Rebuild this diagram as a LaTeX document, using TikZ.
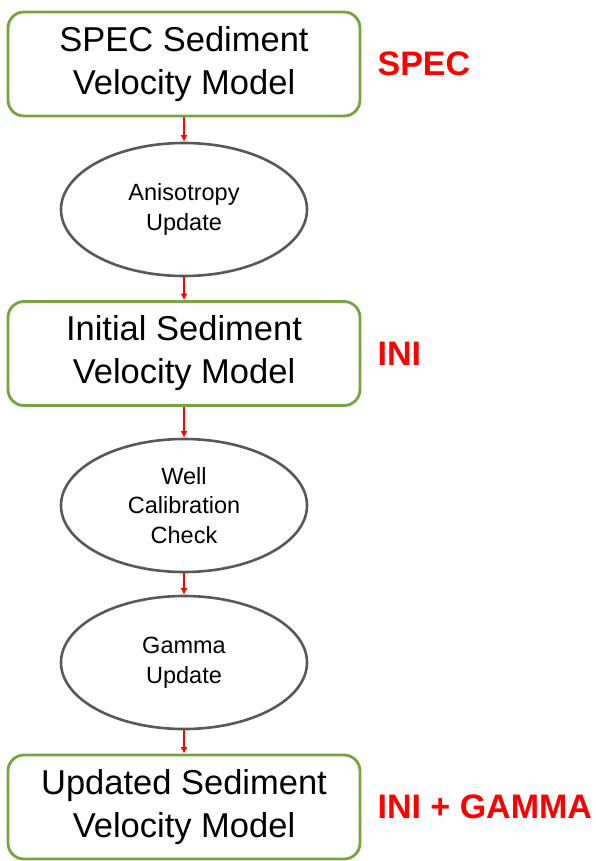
\documentclass[tikz,border=0pt]{standalone}
\usepackage{fontspec}
\setmainfont{Liberation Sans}
\usetikzlibrary{arrows.meta,positioning,shapes.geometric}
\definecolor{modelgreen}{RGB}{118,164,64}
\definecolor{stepgray}{RGB}{88,88,88}
\definecolor{tagred}{RGB}{255,0,0}
\tikzset{
  >={Latex[length=6.5pt,width=7pt]},
  model/.style={
    draw=modelgreen,
    line width=2.8pt,
    rounded corners=16pt,
    align=center,
    inner sep=0pt,
    minimum width=352pt,
    minimum height=104pt,
    font=\fontsize{34.5}{43}\selectfont
  },
  update/.style={
    ellipse,
    draw=stepgray,
    line width=2.6pt,
    align=center,
    inner sep=0pt,
    minimum width=246pt,
    minimum height=133pt,
    font=\fontsize{23.5}{29.5}\selectfont
  },
  tag/.style={
    text=tagred,
    inner sep=0pt,
    font=\fontsize{34}{40}\selectfont\bfseries
  },
  link/.style={->,draw=tagred,line width=2pt}
}

\begin{document}
\begin{tikzpicture}[x=1pt,y=1pt]
  \useasboundingbox (0,0) rectangle (595,-861);

  \node[model] at (184,-64) (spec) {SPEC Sediment\\Velocity Model};
  \node[tag,right=16pt of spec] (spectag) {SPEC};

  \node[update] at (184,-209.5) (aniso) {Anisotropy\\Update};

  \node[model] at (184,-353.5) (initial) {Initial Sediment\\Velocity Model};
  \node[tag,right=16pt of initial] (initag) {INI};

  \node[update] at (184,-505.5) (well) {Well\\Calibration\\Check};

  \node[update] at (184,-662.5) (gamma) {Gamma\\Update};

  \node[model] at (184,-807) (updated) {Updated Sediment\\Velocity Model};
  \node[tag,right=16pt of updated] (gammatag) {INI + GAMMA};

  \draw[link] (spec) -- (aniso);
  \draw[link] (aniso) -- (initial);
  \draw[link] (initial) -- (well);
  \draw[link] (well) -- (gamma);
  \draw[link] (gamma) -- (updated);

\end{tikzpicture}
\end{document}
